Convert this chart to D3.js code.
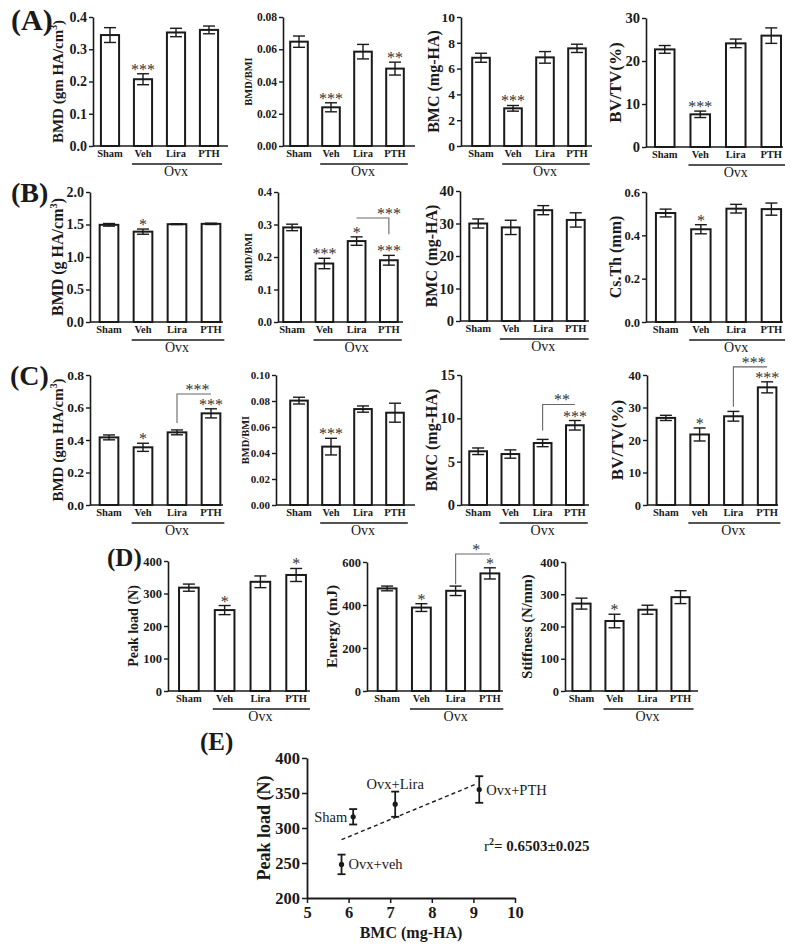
<!DOCTYPE html>
<html>
<head>
<meta charset="utf-8">
<script src="https://cdn.jsdelivr.net/npm/d3@7"></script>
<style>
body { margin: 0; background: #fff; }
svg { display: block; }
text { font-family: "Liberation Serif", "Times New Roman", serif; }
</style>
</head>
<body>
<svg id="fig" width="800" height="950"></svg>
<script>
// ---------------- data ----------------
var groups = ["Sham", "Veh", "Lira", "PTH"];
var groupsLowerVeh = ["Sham", "veh", "Lira", "PTH"];

// (A)
var aBmd = [0.344, 0.207, 0.352, 0.360], aBmdErr = [0.023, 0.017, 0.013, 0.012], aBmdStars = ["", "***", "", ""];
var aRatio = [0.0647, 0.0240, 0.0585, 0.0480], aRatioErr = [0.0035, 0.0028, 0.0045, 0.0040], aRatioStars = ["", "***", "", "**"];
var aBmc = [6.84, 2.92, 6.87, 7.57], aBmcErr = [0.35, 0.22, 0.45, 0.32], aBmcStars = ["", "***", "", ""];
var aBvtv = [22.7, 7.6, 24.1, 25.9], aBvtvErr = [0.9, 0.75, 1.0, 1.8], aBvtvStars = ["", "***", "", ""];
// (B)
var bBmd = [1.495, 1.39, 1.505, 1.51], bBmdErr = [0.02, 0.04, 0.006, 0.01], bBmdStars = ["", "*", "", ""];
var bRatio = [0.291, 0.180, 0.249, 0.190], bRatioErr = [0.010, 0.016, 0.013, 0.015], bRatioStars = ["", "***", "*", "***"];
var bBmc = [30.0, 28.8, 34.1, 31.1], bBmcErr = [1.4, 2.2, 1.4, 2.2], bBmcStars = ["", "", "", ""];
var bCsth = [0.503, 0.428, 0.523, 0.521], bCsthErr = [0.018, 0.021, 0.02, 0.028], bCsthStars = ["", "*", "", ""];
// (C)
var cBmd = [0.416, 0.355, 0.447, 0.564], cBmdErr = [0.015, 0.025, 0.015, 0.028], cBmdStars = ["", "*", "", "***"];
var cRatio = [0.0803, 0.0449, 0.0738, 0.0710], cRatioErr = [0.0026, 0.0064, 0.0024, 0.0073], cRatioStars = ["", "***", "", ""];
var cBmc = [6.2, 5.88, 7.15, 9.2], cBmcErr = [0.38, 0.48, 0.42, 0.55], cBmcStars = ["", "", "", "***"];
var cBvtv = [26.8, 21.7, 27.3, 36.2], cBvtvErr = [0.8, 2.0, 1.5, 1.7], cBvtvStars = ["", "*", "", "***"];
// (D)
var dPeak = [318, 249, 336, 357], dPeakErr = [11, 14, 18, 20], dPeakStars = ["", "*", "", "*"];
var dEnergy = [477, 388, 466, 547], dEnergyErr = [11, 18, 22, 26], dEnergyStars = ["", "*", "", "*"];
var dStiff = [271, 217, 252, 291], dStiffErr = [17, 21, 14, 20], dStiffStars = ["", "*", "", ""];

// y tick values
var ticksA1 = [0, 0.1, 0.2, 0.3, 0.4], ticksA2 = [0, 0.02, 0.04, 0.06, 0.08], ticksA3 = [0, 2, 4, 6, 8, 10], ticksA4 = [0, 10, 20, 30];
var ticksB1 = [0, 0.5, 1.0, 1.5, 2.0], ticksB2 = [0, 0.1, 0.2, 0.3, 0.4], ticksB3 = [0, 10, 20, 30, 40], ticksB4 = [0, 0.2, 0.4, 0.6];
var ticksC1 = [0, 0.2, 0.4, 0.6, 0.8], ticksC2 = [0, 0.02, 0.04, 0.06, 0.08, 0.10], ticksC3 = [0, 5, 10, 15], ticksC4 = [0, 10, 20, 30, 40];
var ticksD1 = [0, 100, 200, 300, 400], ticksD2 = [0, 200, 400, 600], ticksD3 = [0, 100, 200, 300, 400];

// (E) scatter
var eLabels = ["Sham", "Ovx+veh", "Ovx+Lira", "Ovx+PTH"];
var eBmc = [6.11, 5.83, 7.12, 9.14];
var ePeak = [316, 248, 334, 355];
var ePeakErr = [11, 14, 18, 19];
var eTicksX = [5, 6, 7, 8, 9, 10];
var eTicksY = [200, 250, 300, 350, 400];

// ---------------- layout ----------------
var panels = [
  {cats: groups, vals: aBmd, errs: aBmdErr, stars: aBmdStars, ticks: ticksA1, fmt: ".1f", tick: 14, title: "BMD (gm HA/cm", sup: "3", tail: ")", tsize: 15, titleX: 58, axisX: 93, bandL: 93.5, bandR: 225.5, axisEnd: 228, yTop: 17, yBot: 146},
  {cats: groups, vals: aRatio, errs: aRatioErr, stars: aRatioStars, ticks: ticksA2, fmt: ".2f", tick: 11.5, title: "BMD/BMI", tsize: 10.5, titleX: 248, axisX: 283, bandL: 283, bandR: 411, axisEnd: 415, yTop: 17, yBot: 146},
  {cats: groups, vals: aBmc, errs: aBmcErr, stars: aBmcStars, ticks: ticksA3, fmt: "d", tick: 13.5, title: "BMC (mg-HA)", tsize: 16, titleX: 433, axisX: 461, bandL: 465, bandR: 593, axisEnd: 592, yTop: 17, yBot: 146},
  {cats: groups, vals: aBvtv, errs: aBvtvErr, stars: aBvtvStars, ticks: ticksA4, fmt: "d", tick: 14.5, title: "BV/TV(%)", tsize: 17, titleX: 615, axisX: 646, bandL: 647, bandR: 789, axisEnd: 783, yTop: 18, yBot: 147},

  {cats: groups, vals: bBmd, errs: bBmdErr, stars: bBmdStars, ticks: ticksB1, fmt: ".1f", tick: 14, title: "BMD (g HA/cm", sup: "3", tail: ")", tsize: 16, titleX: 57, axisX: 90, bandL: 92, bandR: 228, axisEnd: 223, yTop: 192, yBot: 322},
  {cats: groups, vals: bRatio, errs: bRatioErr, stars: bRatioStars, ticks: ticksB2, fmt: ".1f", tick: 11.5, title: "BMD/BMI", tsize: 10.5, titleX: 248, axisX: 278, bandL: 276, bandR: 405, axisEnd: 403, yTop: 192, yBot: 322,
   bracket: {level: 0.32, lo: 0.27, label: "***", side: "right"}},
  {cats: groups, vals: bBmc, errs: bBmcErr, stars: bBmcStars, ticks: ticksB3, fmt: "d", tick: 14.5, title: "BMC (mg-HA)", tsize: 16, titleX: 431, axisX: 460, bandL: 462, bandR: 592, axisEnd: 589, yTop: 191, yBot: 321},
  {cats: groups, vals: bCsth, errs: bCsthErr, stars: bCsthStars, ticks: ticksB4, fmt: ".1f", tick: 12.5, title: "Cs.Th (mm)", tsize: 16, titleX: 615, axisX: 646, bandL: 648, bandR: 789, axisEnd: 783, yTop: 192, yBot: 322},

  {cats: groups, vals: cBmd, errs: cBmdErr, stars: cBmdStars, ticks: ticksC1, fmt: ".1f", tick: 13.5, title: "BMD (gm HA/cm", sup: "3", tail: ")", tsize: 15, titleX: 58, axisX: 90, bandL: 92, bandR: 228, axisEnd: 223, yTop: 375, yBot: 505,
   bracket: {level: 0.683, lo: 0.505, label: "***", side: "left"}},
  {cats: groups, vals: cRatio, errs: cRatioErr, stars: cRatioStars, ticks: ticksC2, fmt: ".2f", tick: 11, title: "BMD/BMI", tsize: 10.5, titleX: 245, axisX: 276, bandL: 283, bandR: 411, axisEnd: 415, yTop: 375, yBot: 505},
  {cats: groups, vals: cBmc, errs: cBmcErr, stars: cBmcStars, ticks: ticksC3, fmt: "d", tick: 14.5, title: "BMC (mg-HA)", tsize: 16, titleX: 431, axisX: 461, bandL: 462, bandR: 591, axisEnd: 589, yTop: 375, yBot: 505,
   bracket: {level: 11.6, lo: 8.6, label: "**", side: "left"}},
  {cats: groupsLowerVeh, vals: cBvtv, errs: cBvtvErr, stars: cBvtvStars, ticks: ticksC4, fmt: "d", tick: 12.5, title: "BV/TV(%)", tsize: 17, titleX: 617, axisX: 647, bandL: 649, bandR: 784, axisEnd: 778, yTop: 375, yBot: 505,
   bracket: {level: 42.5, lo: 30.2, label: "***", side: "left"}},

  {cats: groups, vals: dPeak, errs: dPeakErr, stars: dPeakStars, ticks: ticksD1, fmt: "d", tick: 12.5, title: "Peak load (N)", tsize: 14, titleX: 133, axisX: 168, bandL: 171, bandR: 314, axisEnd: 310, yTop: 561, yBot: 691},
  {cats: groups, vals: dEnergy, errs: dEnergyErr, stars: dEnergyStars, ticks: ticksD2, fmt: "d", tick: 12.5, title: "Energy (mJ)", tsize: 15.5, titleX: 332, axisX: 367, bandL: 370, bandR: 507, axisEnd: 503, yTop: 562, yBot: 691,
   bracket: {level: 637, lo: 497, label: "*", side: "left"}},
  {cats: groups, vals: dStiff, errs: dStiffErr, stars: dStiffStars, ticks: ticksD3, fmt: "d", tick: 12.5, title: "Stiffness (N/mm)", tsize: 14.5, titleX: 527, axisX: 565, bandL: 565, bandR: 697, axisEnd: 698, yTop: 562, yBot: 691}
];

var panelLabels = [
  {t: "(A)", x: 11, y: 30, s: 30},
  {t: "(B)", x: 11, y: 202, s: 28},
  {t: "(C)", x: 10, y: 385, s: 28},
  {t: "(D)", x: 107, y: 566, s: 25},
  {t: "(E)", x: 200, y: 750, s: 25}
];

var ink = "#1a1a1a";
var svg = d3.select("#fig");
svg.append("rect").attr("width", 800).attr("height", 950).attr("fill", "#fff");

// star glyphs sit high in the em box, so baseline goes a little below the target
function starY(yPx) { return yPx + 3; }

function drawBars(p) {
  var g = svg.append("g");
  var x = d3.scaleBand().domain(p.cats).range([p.bandL, p.bandR]).paddingInner(0.45).paddingOuter(0.225);
  var y = d3.scaleLinear().domain([0, p.ticks[p.ticks.length - 1]]).range([p.yBot, p.yTop]);
  var bw = x.bandwidth();

  // y axis
  var ya = g.append("g")
    .attr("transform", "translate(" + p.axisX + ",0)")
    .call(d3.axisLeft(y).tickValues(p.ticks).tickFormat(d3.format(p.fmt)).tickSize(4).tickSizeOuter(0).tickPadding(2));
  ya.select(".domain").attr("stroke", ink).attr("stroke-width", 1.6);
  ya.selectAll(".tick line").attr("stroke", ink).attr("stroke-width", 1.4);
  ya.selectAll("text").style("font-size", p.tick + "px").style("font-weight", "bold").style("fill", ink);

  // baseline
  g.append("line")
    .attr("x1", p.axisX).attr("x2", p.axisEnd)
    .attr("y1", p.yBot).attr("y2", p.yBot)
    .attr("stroke", ink).attr("stroke-width", 1.6);

  var rows = p.cats.map(function(c, i) {
    return {c: c, v: p.vals[i], e: p.errs[i], s: p.stars[i]};
  });

  // bars
  g.selectAll("rect.bar").data(rows).enter().append("rect")
    .attr("class", "bar")
    .attr("x", function(d) { return x(d.c); })
    .attr("y", function(d) { return y(d.v); })
    .attr("width", bw)
    .attr("height", function(d) { return y(0) - y(d.v); })
    .attr("fill", "#fff").attr("stroke", ink).attr("stroke-width", 2);

  // error bars
  var cap = 6;
  var eb = g.selectAll("g.err").data(rows).enter().append("g").attr("class", "err");
  eb.append("line")
    .attr("x1", function(d) { return x(d.c) + bw / 2; })
    .attr("x2", function(d) { return x(d.c) + bw / 2; })
    .attr("y1", function(d) { return y(d.v - d.e); })
    .attr("y2", function(d) { return y(d.v + d.e); });
  eb.append("line")
    .attr("x1", function(d) { return x(d.c) + bw / 2 - cap; })
    .attr("x2", function(d) { return x(d.c) + bw / 2 + cap; })
    .attr("y1", function(d) { return y(d.v + d.e); })
    .attr("y2", function(d) { return y(d.v + d.e); });
  eb.append("line")
    .attr("x1", function(d) { return x(d.c) + bw / 2 - cap; })
    .attr("x2", function(d) { return x(d.c) + bw / 2 + cap; })
    .attr("y1", function(d) { return y(d.v - d.e); })
    .attr("y2", function(d) { return y(d.v - d.e); });
  eb.selectAll("line").attr("stroke", ink).attr("stroke-width", 1.4);

  // significance stars
  g.selectAll("text.star").data(rows.filter(function(d) { return d.s; })).enter().append("text")
    .attr("class", "star")
    .attr("x", function(d) { return x(d.c) + bw / 2; })
    .attr("y", function(d) { return starY(y(d.v + d.e) - 2); })
    .attr("text-anchor", "middle")
    .style("font-size", "16px")
    .style("fill", "#333")
    .text(function(d) { return d.s; });

  // comparison bracket Lira vs PTH
  if (p.bracket) {
    var b = p.bracket;
    var xl = x(p.cats[2]) + bw / 2, xr = x(p.cats[3]) + bw / 2;
    var yl = y(b.level), ylo = y(b.lo);
    var pts = b.side === "left" ? [[xl, ylo], [xl, yl], [xr, yl]] : [[xl, yl], [xr, yl], [xr, ylo]];
    g.append("path")
      .attr("d", d3.line()(pts))
      .attr("fill", "none").attr("stroke", "#666").attr("stroke-width", 1.1);
    g.append("text")
      .attr("x", b.side === "left" ? xl + (xr - xl) * 0.6 : xr)
      .attr("y", starY(yl - 2))
      .attr("text-anchor", "middle")
      .style("font-size", "16px")
      .style("fill", "#333")
      .text(b.label);
  }

  // category labels
  var xa = g.append("g")
    .attr("transform", "translate(0," + (p.yBot + 4) + ")")
    .call(d3.axisBottom(x).tickSize(0).tickPadding(0));
  xa.select(".domain").remove();
  xa.selectAll("text").style("font-size", "10.5px").style("font-weight", "bold").style("fill", ink);

  // Ovx group line
  g.append("line")
    .attr("x1", x(p.cats[1]) - 2).attr("x2", x(p.cats[3]) + bw + 4)
    .attr("y1", p.yBot + 18).attr("y2", p.yBot + 18)
    .attr("stroke", ink).attr("stroke-width", 1.4);
  g.append("text")
    .attr("x", (x(p.cats[1]) + x(p.cats[3]) + bw) / 2)
    .attr("y", p.yBot + 30)
    .attr("text-anchor", "middle")
    .style("font-size", "14px")
    .style("fill", ink)
    .text("Ovx");

  // y title
  var t = g.append("text")
    .attr("transform", "translate(" + p.titleX + "," + ((p.yTop + p.yBot) / 2) + ") rotate(-90)")
    .attr("text-anchor", "middle")
    .attr("dy", "0.35em")
    .style("font-size", p.tsize + "px")
    .style("font-weight", "bold")
    .style("fill", ink);
  t.append("tspan").text(p.title);
  if (p.sup) {
    t.append("tspan").attr("dy", -6).style("font-size", (p.tsize * 0.65) + "px").text(p.sup);
    t.append("tspan").attr("dy", 6).text(p.tail);
  }
}

panels.forEach(drawBars);

// panel letters
svg.selectAll("text.plabel").data(panelLabels).enter().append("text")
  .attr("class", "plabel")
  .attr("x", function(d) { return d.x; })
  .attr("y", function(d) { return d.y; })
  .style("font-size", function(d) { return d.s + "px"; })
  .style("font-weight", "bold")
  .style("fill", ink)
  .text(function(d) { return d.t; });

// ---------------- (E) scatter ----------------
(function() {
  var g = svg.append("g");
  var ex = d3.scaleLinear().domain([5, 10]).range([307, 515]);
  var ey = d3.scaleLinear().domain([200, 400]).range([898, 758]);

  var ya = g.append("g").attr("transform", "translate(307,0)")
    .call(d3.axisLeft(ey).tickValues(eTicksY).tickFormat(d3.format("d")).tickSize(5).tickSizeOuter(0).tickPadding(2));
  var xa = g.append("g").attr("transform", "translate(0,898)")
    .call(d3.axisBottom(ex).tickValues(eTicksX).tickFormat(d3.format("d")).tickSize(5).tickSizeOuter(0).tickPadding(3));
  [ya, xa].forEach(function(a) {
    a.select(".domain").attr("stroke", ink).attr("stroke-width", 1.8);
    a.selectAll(".tick line").attr("stroke", ink).attr("stroke-width", 1.5);
    a.selectAll("text").style("font-size", "16.5px").style("font-weight", "bold").style("fill", ink);
  });

  g.append("text")
    .attr("transform", "translate(264,828) rotate(-90)")
    .attr("text-anchor", "middle").attr("dy", "0.35em")
    .style("font-size", "18px").style("font-weight", "bold").style("fill", ink)
    .text("Peak load (N)");
  g.append("text")
    .attr("x", 411).attr("y", 938)
    .attr("text-anchor", "middle")
    .style("font-size", "16px").style("font-weight", "bold").style("fill", ink)
    .text("BMC (mg-HA)");

  // least squares trend line
  var mx = d3.mean(eBmc), my = d3.mean(ePeak);
  var sxy = d3.sum(eBmc, function(v, i) { return (v - mx) * (ePeak[i] - my); });
  var sxx = d3.sum(eBmc, function(v) { return (v - mx) * (v - mx); });
  var slope = sxy / sxx, icpt = my - slope * mx;
  var xr = d3.extent(eBmc);
  g.append("line")
    .attr("x1", ex(xr[0])).attr("y1", ey(icpt + slope * xr[0]))
    .attr("x2", ex(xr[1] - 0.05)).attr("y2", ey(icpt + slope * (xr[1] - 0.05)))
    .attr("stroke", ink).attr("stroke-width", 1.4).attr("stroke-dasharray", "4,3");

  var pts = eLabels.map(function(l, i) { return {l: l, x: eBmc[i], y: ePeak[i], e: ePeakErr[i]}; });
  var pg = g.selectAll("g.pt").data(pts).enter().append("g").attr("class", "pt");
  pg.append("line")
    .attr("x1", function(d) { return ex(d.x); }).attr("x2", function(d) { return ex(d.x); })
    .attr("y1", function(d) { return ey(d.y - d.e); }).attr("y2", function(d) { return ey(d.y + d.e); });
  pg.append("line")
    .attr("x1", function(d) { return ex(d.x) - 4; }).attr("x2", function(d) { return ex(d.x) + 4; })
    .attr("y1", function(d) { return ey(d.y + d.e); }).attr("y2", function(d) { return ey(d.y + d.e); });
  pg.append("line")
    .attr("x1", function(d) { return ex(d.x) - 4; }).attr("x2", function(d) { return ex(d.x) + 4; })
    .attr("y1", function(d) { return ey(d.y - d.e); }).attr("y2", function(d) { return ey(d.y - d.e); });
  pg.selectAll("line").attr("stroke", ink).attr("stroke-width", 1.8);
  pg.append("circle")
    .attr("cx", function(d) { return ex(d.x); }).attr("cy", function(d) { return ey(d.y); })
    .attr("r", 2.6).attr("fill", ink);

  // point labels: Sham left, Lira above, others right
  pg.append("text")
    .attr("x", function(d, i) { return i === 0 ? ex(d.x) - 6 : i === 2 ? ex(d.x) : ex(d.x) + 7; })
    .attr("y", function(d, i) { return i === 2 ? ey(d.y + d.e) - 3 : ey(d.y) + 5; })
    .attr("text-anchor", function(d, i) { return i === 0 ? "end" : i === 2 ? "middle" : "start"; })
    .style("font-size", "14.5px")
    .style("fill", ink)
    .text(function(d) { return d.l; });

  var r2 = g.append("text").attr("x", 484).attr("y", 851).style("font-size", "15px").style("fill", ink);
  r2.append("tspan").text("r");
  r2.append("tspan").attr("dy", -6).style("font-size", "10px").style("font-weight", "bold").text("2");
  r2.append("tspan").attr("dy", 6).style("font-weight", "bold").text("= 0.6503\u00b10.025");
})();
</script>
</body>
</html>
